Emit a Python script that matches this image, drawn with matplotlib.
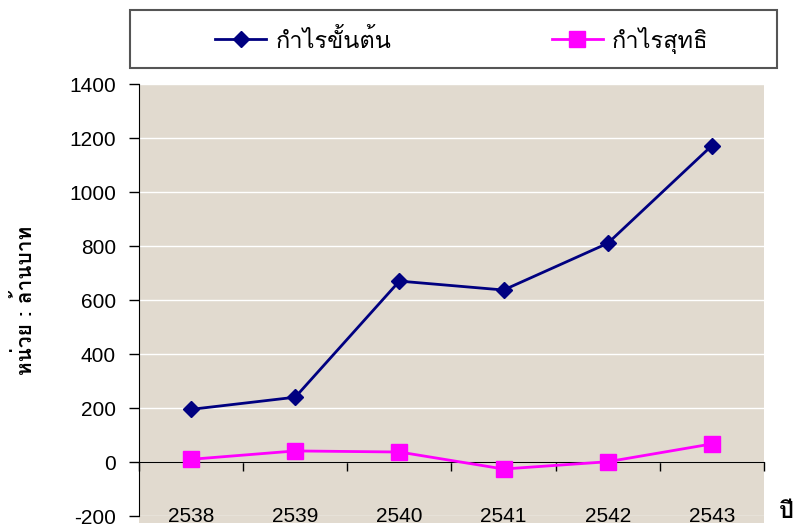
import numpy as np
import matplotlib
matplotlib.use("Agg")
import matplotlib.pyplot as plt
from matplotlib import font_manager
from matplotlib.ft2font import FT2Font
from matplotlib.lines import Line2D
from matplotlib.patches import Rectangle

years = ["2538", "2539", "2540", "2541", "2542", "2543"]
gross_profit = [195, 240, 670, 637, 810, 1172]
net_profit = [10, 41, 37, -26, 1, 67]
y_ticks = [-200, 0, 200, 400, 600, 800, 1000, 1200, 1400]
label_gross = "กำไรขั้นต้น"
label_net = "กำไรสุทธิ"
y_label = "หน่วย : ล้านบาท"
x_label = "ปี"


def find_thai_font():
    # look for any installed font that has Thai glyphs
    for f in font_manager.fontManager.ttflist:
        try:
            if 0x0E01 in FT2Font(f.fname).get_charmap():
                return f.name
        except Exception:
            pass
    return "DejaVu Sans"


thai = find_thai_font()
num_font = ["Liberation Sans", "DejaVu Sans"]

fig = plt.figure(figsize=(8, 5.28), dpi=100)
fig.patch.set_facecolor("white")
ax = fig.add_axes([139 / 800, 1 - 516 / 528, 625 / 800, 432 / 528])
ax.set_facecolor("#e1dacf")

# beige plot area runs a bit below the -200 line, behind the year labels
fig.patches.append(Rectangle((139 / 800, 1 - 523 / 528), 625 / 800, 8 / 528,
                             transform=fig.transFigure, facecolor="#e1dacf",
                             edgecolor="none", zorder=-1))

x = np.arange(len(years))
ax.plot(x, gross_profit, color="#000080", lw=2, marker="D", ms=8, zorder=3)
ax.plot(x, net_profit, color="#ff00ff", lw=2, marker="s", ms=11, zorder=3)

ax.set_xlim(-0.5, len(years) - 0.5)
ax.set_ylim(-200, 1400)
ax.set_yticks(y_ticks)
ax.set_yticklabels([str(v) for v in y_ticks], fontfamily=num_font, fontsize=15)
ax.yaxis.grid(True, color="white", lw=1)
ax.set_axisbelow(True)
ax.tick_params(axis="y", direction="out", length=7.5, width=1, pad=9)

for s in ["top", "right"]:
    ax.spines[s].set_visible(False)
ax.spines["left"].set_color("black")
ax.spines["bottom"].set_position(("data", 0))
ax.spines["bottom"].set_color("black")
ax.set_xticks(np.arange(-0.5, len(years)))
ax.set_xticklabels([])
ax.tick_params(axis="x", direction="out", length=6.5, width=1)

for xi, yr in zip(x, years):
    ax.text(xi, 0, yr, transform=ax.get_xaxis_transform(), ha="center",
            va="center", fontfamily=num_font, fontsize=15, clip_on=False)

fig.text(25 / 800, 1 - 300 / 528, y_label, rotation=90, ha="center", va="center",
         fontfamily=[thai, "DejaVu Sans"], fontsize=15, fontweight="bold")
fig.text(786 / 800, 1 - 512 / 528, x_label, ha="center", va="center",
         fontfamily=[thai, "DejaVu Sans"], fontsize=17, fontweight="bold")

# legend box
fig.patches.append(Rectangle((130 / 800, 1 - 68 / 528), 647 / 800, 58 / 528,
                             transform=fig.transFigure, facecolor="white",
                             edgecolor="#555555", lw=1.5))
handles = [Line2D([], [], color="#000080", lw=2, marker="D", ms=8),
           Line2D([], [], color="#ff00ff", lw=2, marker="s", ms=11)]
fig.legend(handles, [label_gross, label_net], loc="center",
           bbox_to_anchor=(462 / 800, 1 - 40 / 528), ncol=2, frameon=False,
           prop={"family": [thai, "DejaVu Sans"], "size": 17},
           handlelength=2.15, handletextpad=0.4, columnspacing=6.8)

fig.savefig("out.png", dpi=100)
